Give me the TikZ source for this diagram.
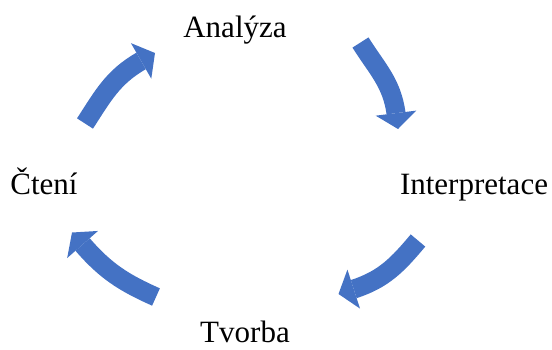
\documentclass[tikz,border=0pt]{standalone}
\usepackage{fontspec}
\setmainfont{Liberation Serif}
\usetikzlibrary{arrows.meta}
\definecolor{cyc}{HTML}{4472C4}
\begin{document}
\begin{tikzpicture}[x=1pt,y=1pt,
  lbl/.style={anchor=base,inner sep=0pt,font=\fontsize{31}{31}\selectfont},
  cycarrow/.style={draw=cyc,line width=19pt,
    -{Triangle[width=41pt,length=16pt,line width=0pt]}}]
\useasboundingbox (0,0) rectangle (552,349);
\node[lbl] (ana) at (235,311) {Analýza};
\node[lbl] (int) at (474,155) {Interpretace};
\node[lbl] (tvo) at (245,7) {Tvorba};
\node[lbl] (cte) at (44,155) {Čtení};
% arrow 1: Čtení -> Analýza
\coordinate (a1s) at (85,225.5);
\coordinate (a1b) at (141,288);
\coordinate (a1e) at (155,296);
% arrow 2: Analýza -> Interpretace
\coordinate (a2s) at (360.5,306.5);
\coordinate (a2b) at (396,236);
\coordinate (a2e) at (398,220);
% arrow 3: Interpretace -> Tvorba
\coordinate (a3s) at (418,108.5);
\coordinate (a3b) at (354,60);
\coordinate (a3e) at (338.5,55);
% arrow 4: Tvorba -> Čtení
\coordinate (a4s) at (156,52);
\coordinate (a4b) at (83,104);
\coordinate (a4e) at (72,116.5);
\draw[cycarrow] (a1s) to[out=57,in=210] (a1b) -- (a1e);
\draw[cycarrow] (a2s) to[out=302,in=98] (a2b) -- (a2e);
\draw[cycarrow] (a3s) to[out=230,in=18] (a3b) -- (a3e);
\draw[cycarrow] (a4s) to[out=156,in=311] (a4b) -- (a4e);
\end{tikzpicture}
\end{document}
